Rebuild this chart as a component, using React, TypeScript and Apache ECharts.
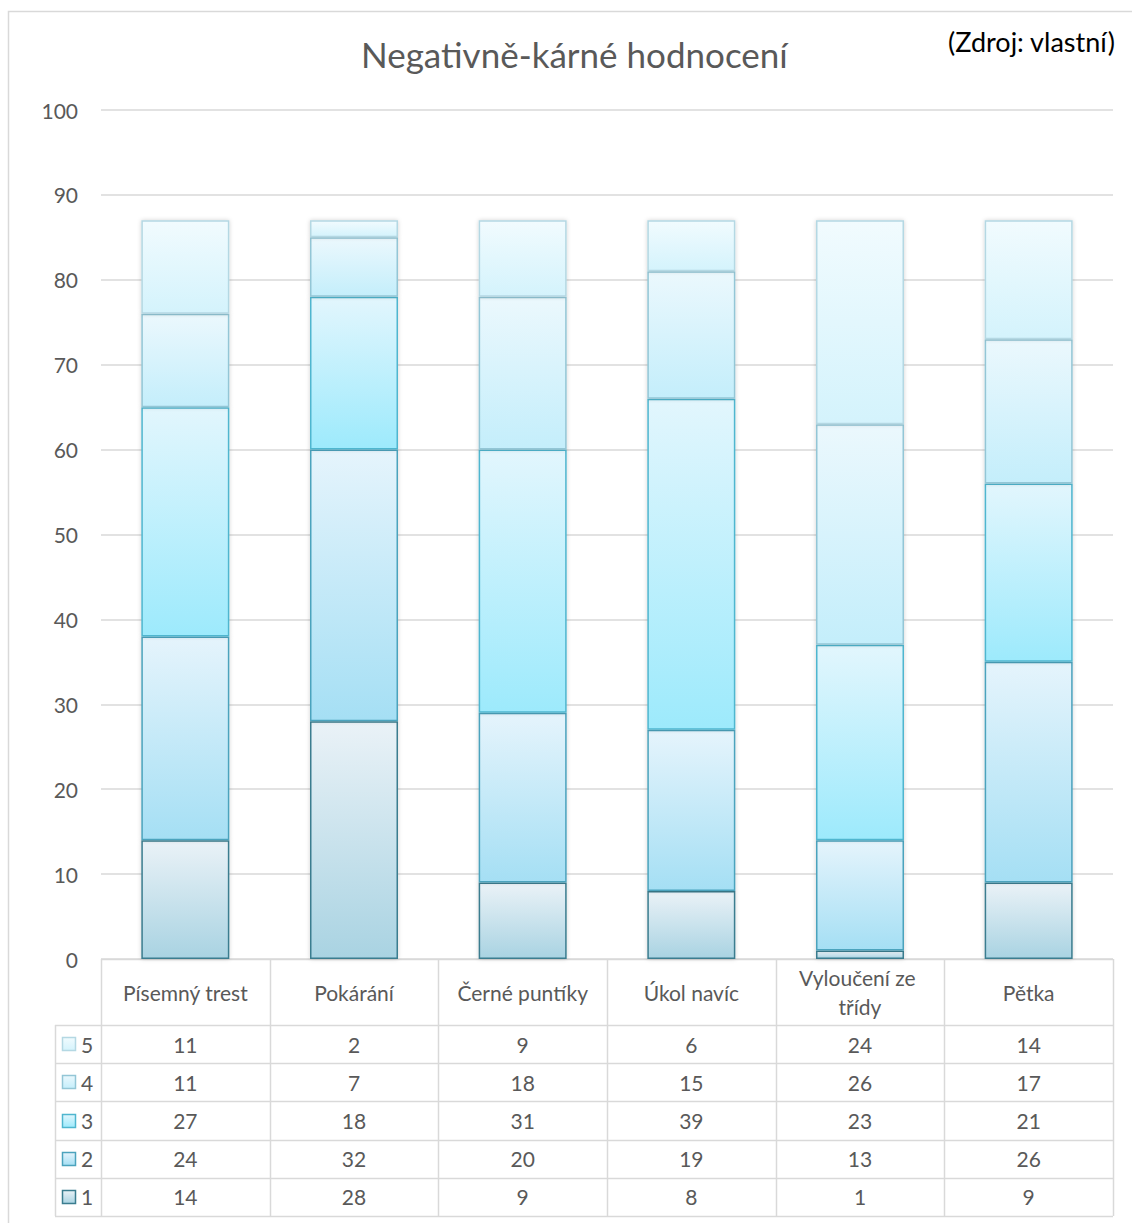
import React, { useEffect, useRef } from "react";
import * as echarts from "echarts";

// Categories and stacked values (series "1" at the bottom, "5" on top)
const categories = ["Písemný trest", "Pokárání", "Černé puntíky", "Úkol navíc", "Vyloučení ze třídy", "Pětka"];
const seriesNames = ["1", "2", "3", "4", "5"];
const values1 = [14, 28, 9, 8, 1, 9];
const values2 = [24, 32, 20, 19, 13, 26];
const values3 = [27, 18, 31, 39, 23, 21];
const values4 = [11, 7, 18, 15, 26, 17];
const values5 = [11, 2, 9, 6, 24, 14];
const yTicks = [0, 10, 20, 30, 40, 50, 60, 70, 80, 90, 100];

const titleText = "Negativně-kárné hodnocení";
const sourceText = "(Zdroj: vlastní)";

const FONT = "Lato, 'Open Sans', sans-serif";
const TEXT_GREY = "#595959";
const LINE_GREY = "#d9d9d9";

const palette = [
  { top: "#eaf2f7", bottom: "#a9d3e2", border: "#3b7d8f" },
  { top: "#e5f4fc", bottom: "#a5dff4", border: "#4ba3bd" },
  { top: "#e2f6fd", bottom: "#9deafc", border: "#4fb6cf" },
  { top: "#ebf8fd", bottom: "#c4eefb", border: "#93c6d6" },
  { top: "#f1fbfe", bottom: "#d4f3fc", border: "#b4d8e3" },
];

// Plot layout
const W = 1132;
const H = 1223;
const GRID_L = 101;
const GRID_R = 1113;
const GRID_T = 110;
const GRID_B = 959;
const HEADER_B = 1025;
const ROW_H = 38.2;
const TABLE_L = 55;

function grad(c: { top: string; bottom: string }) {
  return new echarts.graphic.LinearGradient(0, 0, 0, 1, [
    { offset: 0, color: c.top },
    { offset: 1, color: c.bottom },
  ]);
}

export default function App() {
  const ref = useRef<HTMLDivElement>(null);

  useEffect(() => {
    if (!ref.current) return;
    const chart = echarts.init(ref.current, undefined, { renderer: "svg" });
    const allValues = [values1, values2, values3, values4, values5];

    const catW = (GRID_R - GRID_L) / categories.length;
    const rowCount = seriesNames.length;
    const tableBottom = HEADER_B + rowCount * ROW_H;

    const graphics: any[] = [];
    // outer chart frame
    graphics.push({
      type: "rect",
      shape: { x: 8.5, y: 11.5, width: 1200, height: 1300 },
      style: { fill: "none", stroke: LINE_GREY, lineWidth: 1.5 },
      silent: true,
    });
    // table vertical lines
    for (let i = 0; i <= categories.length; i++) {
      const x = Math.round(GRID_L + i * catW) + 0.5;
      graphics.push({
        type: "line",
        shape: { x1: x, y1: GRID_B, x2: x, y2: tableBottom },
        style: { stroke: LINE_GREY, lineWidth: 1.5 },
        silent: true,
      });
    }
    graphics.push({
      type: "line",
      shape: { x1: TABLE_L + 0.5, y1: HEADER_B, x2: TABLE_L + 0.5, y2: tableBottom },
      style: { stroke: LINE_GREY, lineWidth: 1.5 },
      silent: true,
    });
    // table horizontal lines
    graphics.push({
      type: "line",
      shape: { x1: GRID_L, y1: GRID_B + 0.5, x2: GRID_R, y2: GRID_B + 0.5 },
      style: { stroke: LINE_GREY, lineWidth: 1.5 },
      silent: true,
    });
    for (let r = 0; r <= rowCount; r++) {
      const y = Math.round(HEADER_B + r * ROW_H) + 0.5;
      graphics.push({
        type: "line",
        shape: { x1: TABLE_L, y1: y, x2: GRID_R, y2: y },
        style: { stroke: LINE_GREY, lineWidth: 1.5 },
        silent: true,
      });
    }
    // table rows: series 5 on top down to series 1
    for (let r = 0; r < rowCount; r++) {
      const s = rowCount - 1 - r;
      const cy = HEADER_B + r * ROW_H + ROW_H / 2;
      const c = palette[s];
      graphics.push({
        type: "rect",
        shape: { x: 62.5, y: Math.round(cy - 7) + 0.5, width: 13, height: 13 },
        style: { fill: grad(c), stroke: c.border, lineWidth: 1.5 },
        silent: true,
      });
      graphics.push({
        type: "text",
        x: 81,
        y: cy,
        style: {
          text: seriesNames[s],
          font: `21px ${FONT}`,
          fill: TEXT_GREY,
          textAlign: "left",
          textVerticalAlign: "middle",
        },
        silent: true,
      });
      allValues[s].forEach((v, i) => {
        graphics.push({
          type: "text",
          x: GRID_L + (i + 0.5) * catW,
          y: cy,
          style: {
            text: String(v),
            font: `21px ${FONT}`,
            fill: TEXT_GREY,
            textAlign: "center",
            textVerticalAlign: "middle",
          },
          silent: true,
        });
      });
    }
    // source note
    graphics.push({
      type: "text",
      x: 1115,
      y: 41,
      style: {
        text: sourceText,
        font: `27px ${FONT}`,
        fill: "#000000",
        textAlign: "right",
        textVerticalAlign: "middle",
      },
      silent: true,
    });

    const series = allValues.map((vals, s) => ({
      name: seriesNames[s],
      type: "bar",
      stack: "total",
      data: vals,
      barWidth: 88,
      itemStyle: {
        color: grad(palette[s]),
        borderColor: palette[s].border,
        borderWidth: 1.5,
        shadowBlur: 4,
        shadowColor: "rgba(0,0,0,0.18)",
      },
      emphasis: { disabled: true },
    }));

    chart.setOption({
      animation: false,
      backgroundColor: "#ffffff",
      title: {
        text: titleText,
        left: 361,
        top: 36,
        textStyle: { fontFamily: FONT, fontSize: 35, fontWeight: "normal", color: TEXT_GREY },
        padding: 0,
        itemGap: 0,
      },
      legend: { show: false },
      grid: {
        left: GRID_L,
        right: W - GRID_R,
        top: GRID_T,
        bottom: H - GRID_B,
        containLabel: false,
      },
      xAxis: {
        type: "category",
        data: categories,
        axisLine: { show: false },
        axisTick: { show: false },
        axisLabel: {
          interval: 0,
          margin: 33,
          verticalAlign: "middle",
          width: 168,
          overflow: "break",
          lineHeight: 29,
          fontFamily: FONT,
          fontSize: 21,
          color: TEXT_GREY,
        },
      },
      yAxis: {
        type: "value",
        min: yTicks[0],
        max: yTicks[yTicks.length - 1],
        interval: yTicks[1] - yTicks[0],
        axisLine: { show: false },
        axisTick: { show: false },
        axisLabel: { margin: 23, fontFamily: FONT, fontSize: 21, color: TEXT_GREY },
        splitLine: { lineStyle: { color: LINE_GREY, width: 1.5 } },
      },
      series,
      graphic: graphics,
    });

    return () => chart.dispose();
  }, []);

  return (
    <div
      ref={ref}
      style={{ position: "fixed", left: 0, top: 0, width: W, height: H }}
    />
  );
}
